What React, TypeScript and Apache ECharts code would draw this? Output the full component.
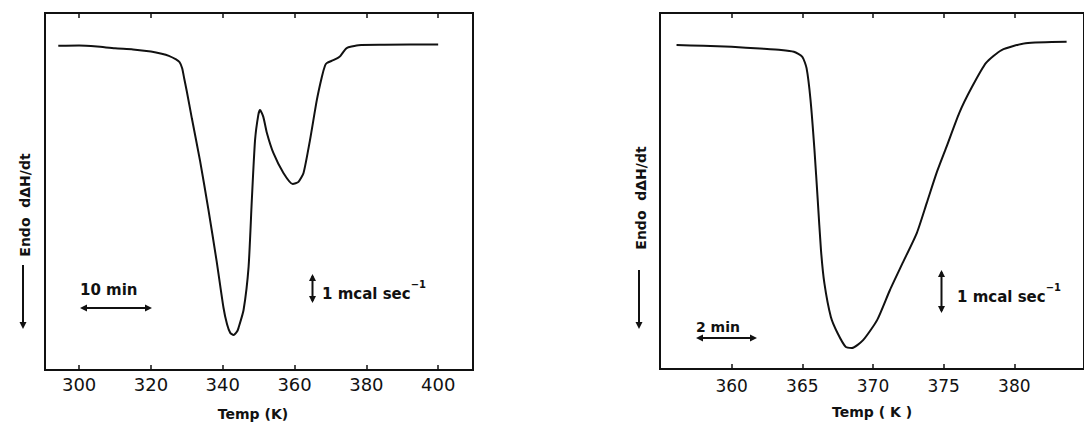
import React, { useEffect, useRef } from "react";
import * as echarts from "echarts";

// Left panel: temperature (K) vs endothermic heat flow (arbitrary units)
const leftTemp = [294.2, 300, 305, 310, 315, 320, 323, 325, 327, 328, 328.7, 329.3, 330, 331.4, 333.7, 336.0, 338.3, 340.2, 341.2, 342.1, 343.0, 344.0, 344.4, 345.8, 347.2, 348.1, 349.0, 349.9, 350.4, 351.3, 352.3, 354.1, 356.9, 359.5, 361.1, 362.5, 364.3, 366.2, 367.6, 368.5, 369.0, 370.8, 372.2, 372.8, 373.6, 374.3, 375.0, 377.8, 385, 400];
const leftFlow = [90.8, 90.9, 90.6, 90.1, 89.8, 89.2, 88.6, 88.0, 87.0, 86.2, 84.5, 81.5, 78.0, 70.5, 58.5, 45.0, 30.5, 17.5, 12.8, 10.4, 9.8, 10.8, 11.8, 16.8, 28.9, 47.6, 64.4, 71.4, 72.8, 70.9, 66.4, 60.8, 55.2, 52.1, 52.7, 55.2, 64.4, 75.6, 82.1, 85.3, 86.0, 86.8, 87.5, 88.0, 89.1, 90.0, 90.4, 91.0, 91.1, 91.2];

// Right panel
const rightTemp = [356.1, 358, 360, 362, 363.5, 364.4, 365.0, 365.3, 365.58, 365.86, 366.09, 366.32, 366.56, 367.02, 367.49, 368.07, 368.5, 369.3, 370.3, 371.2, 372.1, 373.1, 373.8, 374.5, 375.2, 376.1, 377.0, 378.0, 379.1, 380.8, 383.7];
const rightFlow = [91.0, 90.8, 90.5, 90.0, 89.6, 89.1, 87.7, 84.5, 75.6, 61.5, 47.5, 33.4, 24.1, 14.6, 10.1, 6.2, 5.9, 8.1, 13.8, 22.2, 29.8, 38.2, 46.6, 55.1, 62.4, 71.9, 79.2, 86.0, 89.6, 91.5, 91.9];

const leftTicks = [300, 320, 340, 360, 380, 400];
const rightTicks = [360, 365, 370, 375, 380];

const axisTitle = "Temp (K)";
const axisTitleRight = "Temp ( K )";
const yTitle = "Endo  d\u0394H/dt";

const INK = "#111";
const FONT = "DejaVu Sans";

function xAxes(gridIndex: number, min: number, max: number, ticks: number[], name: string, labelMargin: number, labelSize: number, nameGap: number, namePad: number[]) {
  const common = {
    type: "value",
    gridIndex,
    min,
    max,
    splitLine: { show: false },
    axisLine: { show: false },
  };
  return [
    {
      ...common,
      position: "bottom",
      name,
      nameLocation: "middle",
      nameGap,
      nameTextStyle: { color: INK, fontFamily: FONT, fontSize: 14, fontWeight: "bold", padding: namePad },
      axisTick: { show: true, inside: true, length: 5, customValues: ticks, lineStyle: { color: INK, width: 1.5 } },
      axisLabel: { show: true, customValues: ticks, margin: labelMargin, color: INK, fontFamily: FONT, fontSize: labelSize },
    },
    {
      ...common,
      position: "top",
      axisTick: { show: true, inside: true, length: 5, customValues: ticks, lineStyle: { color: INK, width: 1.5 } },
      axisLabel: { show: false },
    },
  ];
}

function vArrow(x: number, y1: number, y2: number, up: boolean, down: boolean) {
  const els: any[] = [
    { type: "line", shape: { x1: x, y1: y1, x2: x, y2: y2 }, style: { stroke: INK, lineWidth: 2 } },
  ];
  if (up) els.push({ type: "polygon", shape: { points: [[x, y1 - 2], [x - 3.5, y1 + 5], [x + 3.5, y1 + 5]] }, style: { fill: INK } });
  if (down) els.push({ type: "polygon", shape: { points: [[x, y2 + 2], [x - 3.5, y2 - 5], [x + 3.5, y2 - 5]] }, style: { fill: INK } });
  return els;
}

function hArrow(y: number, x1: number, x2: number) {
  return [
    { type: "line", shape: { x1: x1, y1: y, x2: x2, y2: y }, style: { stroke: INK, lineWidth: 2 } },
    { type: "polygon", shape: { points: [[x1 - 2, y], [x1 + 5, y - 3.5], [x1 + 5, y + 3.5]] }, style: { fill: INK } },
    { type: "polygon", shape: { points: [[x2 + 2, y], [x2 - 5, y - 3.5], [x2 - 5, y + 3.5]] }, style: { fill: INK } },
  ];
}

function rotText(x: number, y: number, text: string) {
  return {
    type: "text",
    x,
    y,
    rotation: Math.PI / 2,
    style: { text, fill: INK, font: `bold 14px '${FONT}'`, align: "center", verticalAlign: "middle" },
  };
}

function scaleText(x: number, y: number, text: string, size: number) {
  return {
    type: "text",
    x,
    y,
    style: { text, fill: INK, font: `bold ${size}px '${FONT}'`, align: "left", verticalAlign: "middle" },
  };
}

function mcalText(x: number, y: number) {
  return {
    type: "text",
    x,
    y,
    style: {
      text: "{n|1 mcal sec}{s|\u22121}",
      align: "left",
      verticalAlign: "middle",
      rich: {
        n: { fill: INK, fontFamily: FONT, fontWeight: "bold", fontSize: 15, lineHeight: 22, verticalAlign: "bottom" },
        s: { fill: INK, fontFamily: FONT, fontWeight: "bold", fontSize: 10, lineHeight: 22, verticalAlign: "top" },
      },
    },
  };
}

export default function App() {
  const ref = useRef<HTMLDivElement>(null);

  useEffect(() => {
    if (!ref.current) return;
    const chart = echarts.init(ref.current, null, { renderer: "svg" });
    const leftData = leftTemp.map((t, i) => [t, leftFlow[i]]);
    const rightData = rightTemp.map((t, i) => [t, rightFlow[i]]);

    const graphic: any[] = [
      // left panel annotations
      rotText(25, 205, yTitle),
      ...vArrow(23, 265, 327, false, true),
      scaleText(80, 290, "10 min", 15),
      ...hArrow(308, 82, 150),
      ...vArrow(312.5, 276, 301, true, true),
      mcalText(322, 290),
      // right panel annotations
      rotText(641, 198, yTitle),
      ...vArrow(639, 270, 327, false, true),
      scaleText(696, 327, "2 min", 14),
      ...hArrow(338, 698, 755),
      ...vArrow(941.5, 272, 311, true, true),
      mcalText(957, 293),
    ];

    chart.setOption({
      animation: false,
      backgroundColor: "#fff",
      grid: [
        { left: 45, top: 13, width: 428, height: 357, show: true, borderColor: INK, borderWidth: 2, backgroundColor: "transparent" },
        { left: 660, top: 13, width: 430, height: 356, show: true, borderColor: INK, borderWidth: 2, backgroundColor: "transparent" },
      ],
      xAxis: [
        ...xAxes(0, 290.5, 409.7, leftTicks, axisTitle, 5, 18, 37, [0, 12, 0, 0]),
        ...xAxes(1, 354.93, 384.93, rightTicks, axisTitleRight, 8, 17, 36, [0, 0, 0, 0]),
      ],
      yAxis: [
        { type: "value", gridIndex: 0, min: 0, max: 100, show: false },
        { type: "value", gridIndex: 1, min: 0, max: 100, show: false },
      ],
      series: [
        {
          type: "line",
          xAxisIndex: 0,
          yAxisIndex: 0,
          data: leftData,
          showSymbol: false,
          smooth: 0.2,
          lineStyle: { color: INK, width: 2 },
        },
        {
          type: "line",
          xAxisIndex: 2,
          yAxisIndex: 1,
          data: rightData,
          showSymbol: false,
          smooth: 0.2,
          lineStyle: { color: INK, width: 2 },
        },
      ],
      graphic,
    });
    return () => chart.dispose();
  }, []);

  return <div ref={ref} style={{ position: "fixed", left: 0, top: 0, width: 1084, height: 429 }} />;
}
